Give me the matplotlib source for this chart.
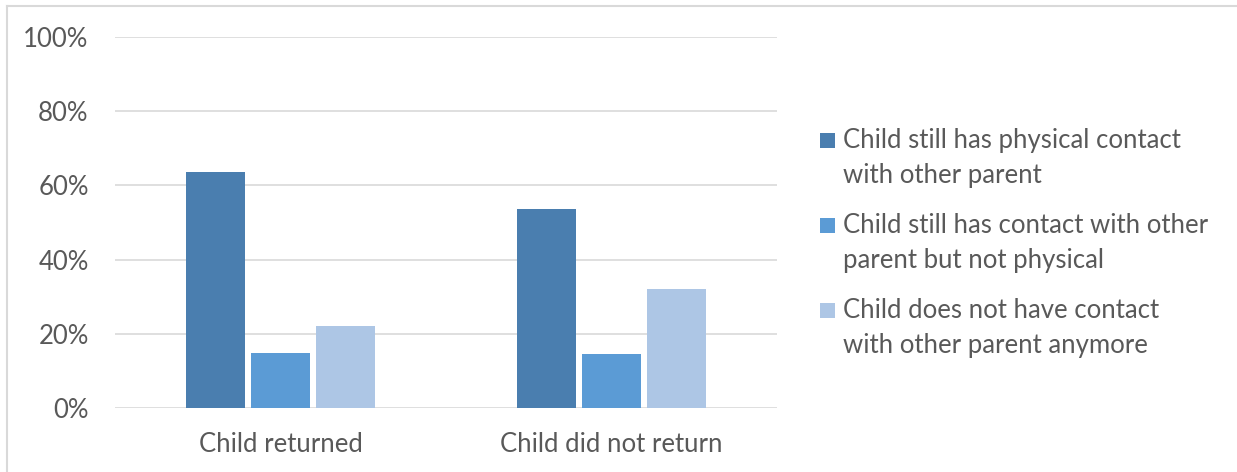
import matplotlib
matplotlib.rcParams['font.family'] = ['Lato', 'DejaVu Sans']
import matplotlib.pyplot as plt
from matplotlib.patches import Rectangle
import numpy as np

categories = ['Child returned', 'Child did not return']
series = ['Child still has physical contact\nwith other parent',
          'Child still has contact with other\nparent but not physical',
          'Child does not have contact\nwith other parent anymore']
physical = [63.5, 53.6]
non_physical = [14.7, 14.5]
no_contact = [22.0, 32.2]
colors = ['#4A7EAF', '#5B9BD5', '#ADC6E5']

W, H = 1237, 472
fig = plt.figure(figsize=(W / 100, H / 100), dpi=100)
ax = fig.add_axes([0.093, 0.1356, 0.535, 0.786])

x = np.arange(len(categories))
w = 0.178
step = 0.196
for i, (vals, c, lab) in enumerate(zip([physical, non_physical, no_contact], colors, series)):
    ax.bar(x + (i - 1) * step, vals, width=w, color=c, label=lab, zorder=3)

ax.set_xlim(-0.5, 1.5)
ax.set_ylim(0, 100)
ax.set_yticks(np.arange(0, 101, 20))
ax.set_yticklabels([f'{v}%' for v in range(0, 101, 20)])
ax.set_xticks(x)
ax.set_xticklabels(categories)
ax.tick_params(axis='both', length=0, labelsize=18.5, labelcolor='#595959')
ax.tick_params(axis='y', pad=19)
ax.tick_params(axis='x', pad=17.5)
ax.grid(axis='y', color='#D9D9D9', linewidth=1.2, zorder=0)
for s in ax.spines.values():
    s.set_visible(False)

# legend, marker sits beside the first line of each entry (like Excel)
for i, (lab, c) in enumerate(zip(series, colors)):
    top = 133 + 85 * i
    fig.add_artist(Rectangle((820 / W, 1 - (top + 15) / H), 15 / W, 15 / H,
                             facecolor=c, edgecolor='none', transform=fig.transFigure))
    fig.text(843 / W, 1 - (158 + 85 * i) / H, lab, fontsize=18.5, color='#595959',
             ha='left', va='center', linespacing=1.52)

# outer frame (top and left edges visible)
fig.add_artist(plt.Line2D([0.0058, 1.0], [0.9883, 0.9883], color='#D9D9D9', lw=1.5, transform=fig.transFigure))
fig.add_artist(plt.Line2D([0.0058, 0.0058], [0.0, 0.9883], color='#D9D9D9', lw=1.5, transform=fig.transFigure))

fig.savefig('out.png', dpi=100, facecolor='white')
